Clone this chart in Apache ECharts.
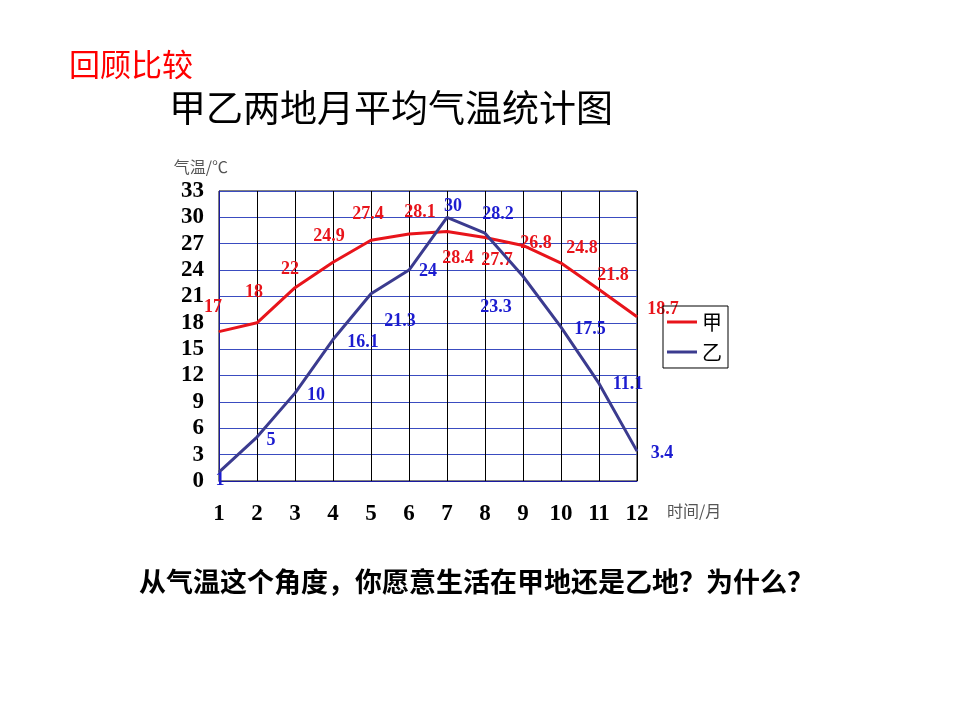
<!DOCTYPE html>
<html>
<head>
<meta charset="utf-8">
<title>甲乙两地月平均气温统计图</title>
<script src="https://cdn.jsdelivr.net/npm/echarts@6/dist/echarts.min.js"></script>
<style>
html, body { margin: 0; padding: 0; background: #fff; }
#chart { width: 960px; height: 720px; }
</style>
</head>
<body>
<div id="chart"></div>
<script>
// 数据
var months = ['1', '2', '3', '4', '5', '6', '7', '8', '9', '10', '11', '12'];
var tempA = [17, 18, 22, 24.9, 27.4, 28.1, 28.4, 27.7, 26.8, 24.8, 21.8, 18.7]; // 甲地
var tempB = [1, 5, 10, 16.1, 21.3, 24, 30, 28.2, 23.3, 17.5, 11.1, 3.4];        // 乙地

// 数据标签偏移（样式）
var offsetA = [[-6, -24], [-3, -30], [-5, -18], [-4, -26], [-3, -26], [11, -22],
	[11, 27], [12, 23], [13, -2], [21, -15], [14, -14], [26, -7]];
var offsetB = [[1, 8], [14, 3], [21, 2], [30, 3], [29, 28], [19, 1],
	[6, -11], [13, -19], [-27, 31], [29, 2], [29, 1], [25, 2]];

var red = '#e8141b';
var navy = '#3b3b8f';
var blueText = '#1c1cd0';
var serif = '"Liberation Serif", "DejaVu Serif", serif';
var cjk = '"Noto Sans CJK SC", sans-serif';

function withLabels(values, offsets, color) {
	return values.map(function(v, i) {
		return {
			value: v,
			label: { offset: offsets[i], color: color }
		};
	});
}

var myChart = echarts.init(document.getElementById('chart'));
var option = {
	backgroundColor: '#fff',
	animation: false,
	title: [{
		text: '回顾比较',
		left: 64,
		top: 44,
		textStyle: { color: '#ff0000', fontSize: 31, fontWeight: 'normal', fontFamily: cjk }
	}, {
		text: '甲乙两地月平均气温统计图',
		left: 164,
		top: 84,
		textStyle: { color: '#000', fontSize: 37, fontWeight: 'normal', fontFamily: cjk }
	}, {
		text: '从气温这个角度，你愿意生活在甲地还是乙地？为什么？',
		left: 134,
		top: 563,
		textStyle: { color: '#000', fontSize: 27, fontWeight: 'bold', fontFamily: cjk }
	}],
	legend: {
		orient: 'vertical',
		left: 663,
		top: 306,
		padding: [6, 6, 6, 4],
		itemGap: 10,
		itemWidth: 30,
		itemHeight: 3,
		borderColor: '#000',
		borderWidth: 1,
		textStyle: { color: '#000', fontSize: 20, fontFamily: cjk },
		data: [{ name: '甲', icon: 'rect' }, { name: '乙', icon: 'rect' }]
	},
	grid: {
		left: 219,
		right: 323,
		top: 191,
		bottom: 239,
		show: true,
		borderColor: '#000',
		borderWidth: 1
	},
	xAxis: {
		type: 'category',
		data: months,
		boundaryGap: false,
		name: '时间/月',
		nameLocation: 'end',
		nameGap: 30,
		nameTextStyle: {
			color: '#555', fontSize: 16, fontFamily: cjk,
			align: 'left', verticalAlign: 'top', padding: [22, 0, 0, 0]
		},
		axisLine: { lineStyle: { color: '#1a1aa0', width: 1 } },
		axisTick: { show: false },
		axisLabel: { color: '#000', fontSize: 23, fontWeight: 'bold', fontFamily: serif, margin: 22 },
		splitLine: { show: true, lineStyle: { color: '#000', width: 1 } }
	},
	yAxis: {
		type: 'value',
		min: 0,
		max: 33,
		interval: 3,
		name: '气温/℃',
		nameLocation: 'end',
		nameGap: 24,
		nameTextStyle: {
			color: '#555', fontSize: 16, fontFamily: cjk,
			align: 'right', verticalAlign: 'middle', padding: [0, -9, 0, 0]
		},
		axisLine: { show: true, lineStyle: { color: '#1a1aa0', width: 1 } },
		axisTick: { show: false },
		axisLabel: { color: '#000', fontSize: 23, fontWeight: 'bold', fontFamily: serif, margin: 15 },
		splitLine: { show: true, lineStyle: { color: '#3a4cc0', width: 1 } }
	},
	series: [{
		name: '甲',
		type: 'line',
		data: withLabels(tempA, offsetA, red),
		symbol: 'circle',
		symbolSize: 1,
		itemStyle: { color: red },
		lineStyle: { color: red, width: 3 },
		label: {
			show: true,
			position: 'inside',
			fontSize: 18,
			fontWeight: 'bold',
			fontFamily: serif
		},
		z: 3
	}, {
		name: '乙',
		type: 'line',
		data: withLabels(tempB, offsetB, blueText),
		symbol: 'circle',
		symbolSize: 1,
		itemStyle: { color: navy },
		lineStyle: { color: navy, width: 3 },
		label: {
			show: true,
			position: 'inside',
			fontSize: 18,
			fontWeight: 'bold',
			fontFamily: serif
		},
		z: 4
	}]
};
myChart.setOption(option);
</script>
</body>
</html>
